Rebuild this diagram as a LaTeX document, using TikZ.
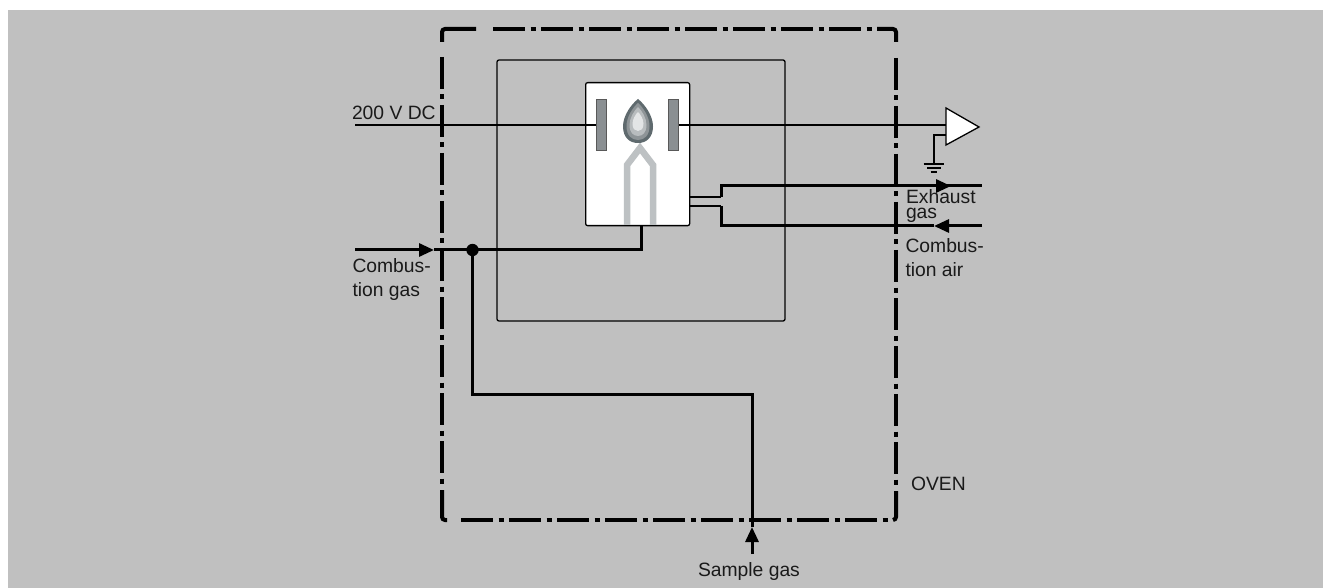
\documentclass[tikz,border=0pt]{standalone}
\usepackage{fontspec}
\setmainfont{Liberation Sans}
\usetikzlibrary{arrows.meta}
\definecolor{bgray}{HTML}{C0C0C0}
\definecolor{burner}{HTML}{BDC1C3}
\definecolor{plate}{HTML}{8A8F92}
\definecolor{txt}{HTML}{1A1A1A}
\definecolor{flameA}{HTML}{5F6A6E}
\definecolor{flameB}{HTML}{8E9497}
\definecolor{flameC}{HTML}{B8BCBE}
\definecolor{flameD}{HTML}{E3E5E6}
\tikzset{
  ovenline/.style={line width=4pt,dash pattern=on 32pt off 5.5pt on 5pt off 5.5pt},
  ovencorner/.style={line width=4pt,rounded corners=3pt},
  gasline/.style={line width=3pt},
  thinline/.style={line width=1.4pt},
  branchline/.style={line width=2pt},
  tiparrow/.style={gasline,-{Triangle[length=15pt,width=13pt]}},
  lbl/.style={anchor=base west,inner sep=0pt,outer sep=0pt,text=txt,font=\fontsize{19.3pt}{22pt}\selectfont},
  platebox/.style={draw=black!65,line width=0.8pt,fill=plate},
}
\newcommand{\flameshape}[4]{\fill[#4] (638,#1) .. controls ({638+0.45*#3},{#1+0.12*(#2-#1)}) and ({638+#3},{#1+0.38*(#2-#1)}) .. ({638+#3},{#1+0.62*(#2-#1)}) .. controls ({638+#3},{#1+0.88*(#2-#1)}) and ({638+0.55*#3},#2) .. (638,#2) .. controls ({638-0.55*#3},#2) and ({638-#3},{#1+0.88*(#2-#1)}) .. ({638-#3},{#1+0.62*(#2-#1)}) .. controls ({638-#3},{#1+0.38*(#2-#1)}) and ({638-0.45*#3},{#1+0.12*(#2-#1)}) .. cycle;}
\begin{document}
\begin{tikzpicture}[x=1pt,y=-1pt]
\useasboundingbox (0,0) rectangle (1323,588);
\fill[white] (0,0) rectangle (1323,588);
\fill[bgray] (8,10) rectangle (1323,588);

% inner enclosure
\draw[line width=1.3pt,rounded corners=2pt] (497,60) rectangle (785,321);

% signal line
\coordinate (sigL) at (355,125);
\coordinate (plL) at (596.5,125);
\coordinate (plR) at (678,125);
\coordinate (ampIn) at (946,125);
\draw[thinline] (sigL) -- (plL);
\draw[thinline] (plR) -- (ampIn);

% gas feed
\coordinate (cgStart) at (355,250);
\coordinate (cgTip) at (434,250);
\coordinate (junction) at (472.5,250);
\coordinate (cgBend) at (641,250);
\coordinate (boxIn) at (641,225);
\coordinate (sBend1) at (472.5,394);
\coordinate (sBend2) at (752,394);
\coordinate (sTip) at (752,527);
\coordinate (sStart) at (752,554);
\draw[tiparrow] (cgStart) -- (cgTip);
\draw[gasline] (cgTip) -- (cgBend) -- (boxIn);
\draw[gasline] (junction) -- (sBend1) -- (sBend2) -- (sTip);
\draw[tiparrow] (sStart) -- (sTip);
\fill (junction) circle (6.2pt);

% exhaust / air
\coordinate (exA) at (689,197);
\coordinate (exB) at (721,197);
\coordinate (exC) at (721,186);
\coordinate (exTip) at (951,186);
\coordinate (exEnd) at (982,186);
\coordinate (airA) at (689,206);
\coordinate (airB) at (721,206);
\coordinate (airC) at (721,226);
\coordinate (airTip) at (934,226);
\coordinate (airEnd) at (982,226);
\draw[branchline] (exA) -- (exB);
\draw[branchline] (airA) -- (airB);
\draw[gasline] (exB) -- (exC) -- (exTip);
\draw[gasline] (airB) -- (airC) -- (airTip);
\draw[tiparrow] (exC) -- (exTip);
\draw[gasline] (exTip) -- (exEnd);
\draw[tiparrow] (airEnd) -- (airTip);

% oven boundary
\draw[ovenline] (493,29) -- (876,29);
\draw[ovencorner] (442,42) -- (442,29) -- (476,29);
\draw[ovenline] (442,57) -- (442,486);
\draw[ovenline] (461,520) -- (889,520);
\draw[ovenline] (896,58) -- (896,486);
\draw[ovencorner] (442,490) -- (442,520) -- (447,520);
\draw[ovencorner] (893,520) -- (896,520) -- (896,491);
\draw[ovencorner] (877,29) -- (896,29) -- (896,42);

% flame cell
\node[draw=black,line width=1.3pt,fill=white,rounded corners=2pt,minimum width=104pt,minimum height=143pt,inner sep=0pt,anchor=north west] (cell) at (585,82) {};
\draw[line width=1.2pt] (585,125) -- (596.5,125);
\draw[line width=1.2pt] (678,125) -- (689,125);
\draw[platebox] (596.5,99) rectangle (606.2,150.5);
\draw[platebox] (668.5,99) rectangle (678.2,150.5);

% burner
\draw[burner,line width=6.5pt,line join=miter,miter limit=3] (627,225) -- (627,165) -- (640,148) -- (653,165) -- (653,225);

% flame
\flameshape{99}{143}{15}{flameA}
\flameshape{103}{140}{11.5}{flameB}
\flameshape{107}{136}{8.5}{flameC}
\flameshape{112}{131}{5.5}{flameD}

% amplifier
\coordinate (gndTop) at (934,135);
\coordinate (gndDown) at (934,164);
\coordinate (ampG) at (946,135);
\draw[line width=1.3pt] (ampG) -- (gndTop) -- (gndDown);
\draw[line width=1.3pt] (923.5,164) -- (943.5,164);
\draw[line width=1.3pt] (927,168) -- (940.5,168);
\draw[line width=1.3pt] (930.5,172) -- (937,172);
\draw[line width=1.3pt,fill=white,line join=miter] (946,108) -- (979,127) -- (946,145) -- cycle;

% labels
\node[lbl] (t200) at (352,120) {200 V DC};
\node[lbl] (tcg1) at (352.5,272.7) {Combus-};
\node[lbl] (tcg2) at (352.5,296.7) {tion gas};
\node[lbl] (tex1) at (906,204) {Exhaust};
\node[lbl] (tex2) at (906,219) {gas};
\node[lbl] (tca1) at (905.5,252.7) {Combus-};
\node[lbl] (tca2) at (905.5,276.7) {tion air};
\node[lbl] (toven) at (911,490) {OVEN};
\node[lbl] (tsg) at (698,576.7) {Sample gas};
\end{tikzpicture}
\end{document}
